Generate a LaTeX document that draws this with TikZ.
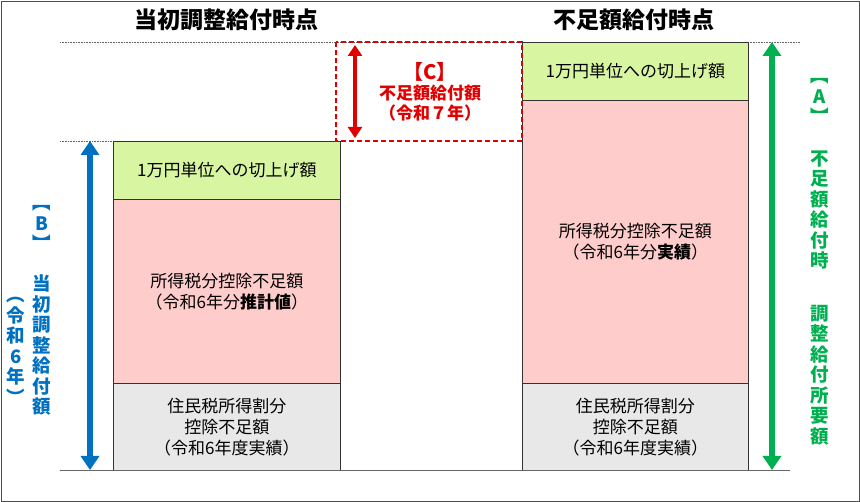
\documentclass[tikz,border=0pt]{standalone}
\usepackage{fontspec}
\setmainfont{Noto Sans CJK JP}
\usetikzlibrary{arrows.meta}
\definecolor{myblue}{HTML}{0070C0}
\definecolor{mygreen}{HTML}{00B050}
\definecolor{myred}{HTML}{E00000}
\definecolor{gbox}{HTML}{D8F5A2}
\definecolor{pbox}{HTML}{FFCCCC}
\definecolor{ybox}{HTML}{E8E8E8}
\tikzset{
  bar/.style={draw=black!80, line width=0.6pt, align=center, font=\fontsize{17}{21}\selectfont},
  dotline/.style={densely dotted, black!60, line width=0.6pt},
  bigarrow/.style={line width=6pt, {Triangle[width=18pt,length=14pt]}-{Triangle[width=18pt,length=14pt]}},
  vlab/.style={align=center, font=\fontsize{18.5}{20.5}\selectfont\bfseries},
  title/.style={font=\fontsize{23}{26}\selectfont\bfseries}
}
\begin{document}
\begin{tikzpicture}[x=1pt,y=-1pt]
\draw[black!70, line width=0.8pt] (1,1) rectangle (859,501);
\useasboundingbox (0,0) rectangle (860,502);
\node[title] (t1) at (226,20) {当初調整給付時点};
\node[title] (t2) at (634,20) {不足額給付時点};
\draw[dotline] (60,42) -- (800,42);
\draw[dotline] (60,141) -- (113,141);
% left column
\node[bar, fill=ybox, minimum width=227pt, minimum height=87pt, anchor=north west] (l3) at (113,383) {住民税所得割分\\控除不足額\\（令和6年度実績）};
\node[bar, fill=pbox, minimum width=227pt, minimum height=184pt, anchor=north west] (l2) at (113,199) {所得税分控除不足額\\（令和6年分\textbf{推計値}）};
\node[bar, fill=gbox, minimum width=227pt, minimum height=58pt, anchor=north west] (l1) at (113,141) {1万円単位への切上げ額};
% right column
\node[bar, fill=ybox, minimum width=226pt, minimum height=87pt, anchor=north west] (r3) at (522,383) {住民税所得割分\\控除不足額\\（令和6年度実績）};
\node[bar, fill=pbox, minimum width=226pt, minimum height=283pt, anchor=north west] (r2) at (522,100) {所得税分控除不足額\\（令和6年分\textbf{実績}）};
\node[bar, fill=gbox, minimum width=226pt, minimum height=58pt, anchor=north west] (r1) at (522,42) {1万円単位への切上げ額};
\draw[black!60, line width=0.8pt] (60,470) -- (790,470);
% arrows
\coordinate (bt) at (90,141); \coordinate (bb) at (90,470);
\draw[bigarrow, myblue] (bt) -- (bb);
\coordinate (at) at (772,42); \coordinate (ab) at (772,470);
\draw[bigarrow, mygreen] (at) -- (ab);
% C
\draw[myred, dash pattern=on 5pt off 3pt, line width=1.4pt] (336,42) rectangle (522,141);
\coordinate (ct) at (355,45); \coordinate (cb) at (355,138);
\draw[myred, line width=4pt, {Triangle[width=14pt,length=11pt]}-{Triangle[width=14pt,length=11pt]}] (ct) -- (cb);
\node[myred, align=center, font=\fontsize{17}{20}\selectfont\bfseries] (c) at (430,92) {{\fontsize{20}{20}\selectfont【C】}\\不足額給付額\\（令和７年）};
% B labels
\node[vlab, myblue] (b0) at (42,228) {︻\\B\\︼};
\node[vlab, myblue] (b1) at (42,345) {当\\初\\調\\整\\給\\付\\額};
\node[vlab, myblue] (b2) at (16,351) {︵\\令\\和\\6\\年\\︶};
% A labels
\node[vlab, mygreen] (a0) at (820,101) {︻\\A\\︼};
\node[vlab, mygreen] (a1) at (820,210) {不\\足\\額\\給\\付\\時};
\node[vlab, mygreen] (a2) at (820,375) {調\\整\\給\\付\\所\\要\\額};
\end{tikzpicture}
\end{document}
